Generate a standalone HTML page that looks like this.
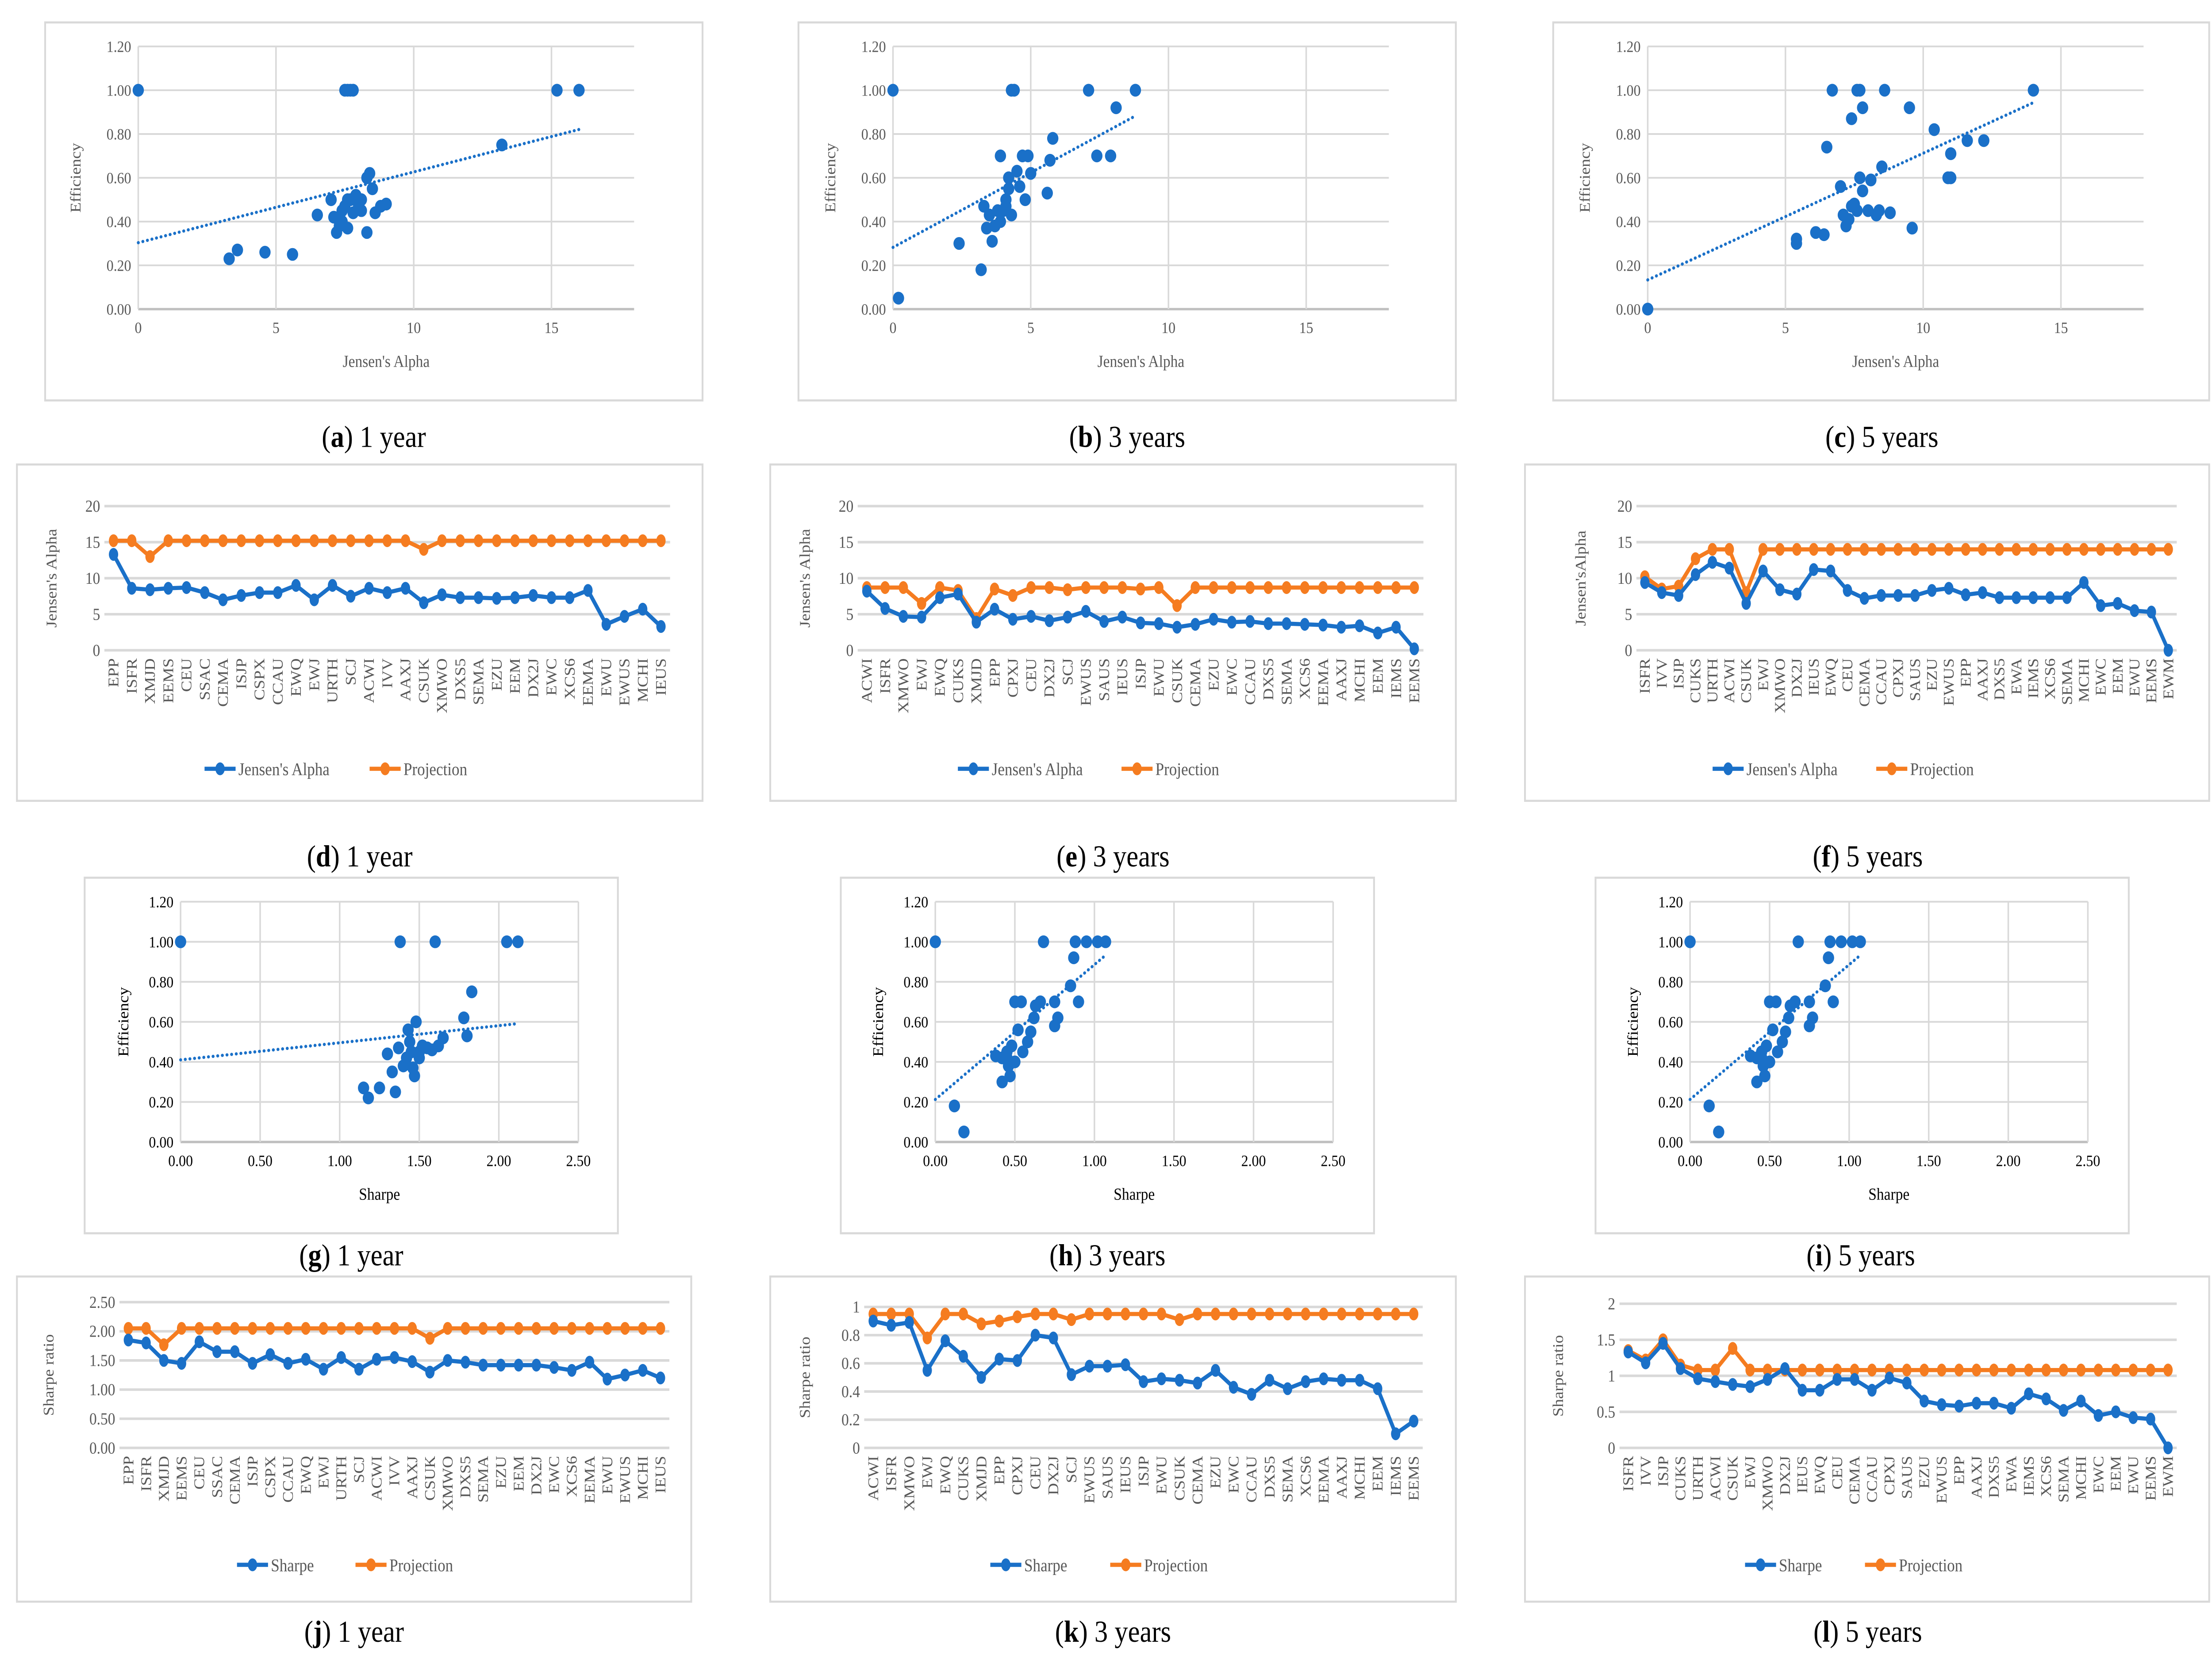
<!DOCTYPE html>
<html><head><meta charset="utf-8"><style>
html,body{margin:0;padding:0;background:#fff;width:100%;height:100%;overflow:hidden}
svg{display:block;width:100vw;height:100vh;position:absolute;left:0;top:0}
text{font-family:"Liberation Serif",serif}
</style></head><body>
<svg id="svgroot" xmlns="http://www.w3.org/2000/svg" viewBox="0 0 1568 1038.3" preserveAspectRatio="none"><g id="fig"></g></svg>
<script>
// ---------- DATA ----------
const aX=[0,3.3,3.6,4.6,5.6,6.5,7,7.1,7.2,7.3,7.4,7.5,7.6,7.7,7.8,7.5,7.6,7.7,7.8,7.9,8,8.1,8.3,8.3,8.4,8.5,8.6,8.8,9,13.2,15.2,16,7.4,7.6,8.1];
const aY=[1,0.23,0.27,0.26,0.25,0.43,0.5,0.42,0.35,0.38,0.45,1,1,1,1,0.47,0.37,0.5,0.44,0.52,0.47,0.45,0.35,0.6,0.62,0.55,0.44,0.47,0.48,0.75,1,1,0.4,0.5,0.5];
const bX=[0,0.2,2.4,3.2,3.3,3.4,3.5,3.6,3.7,3.8,3.9,4,4.1,4.2,4.2,4.3,4.4,4.3,4.5,4.6,4.7,4.8,4.9,5,5.6,5.7,5.8,7.1,7.4,7.9,8.1,8.8,3.9,4.1];
const bY=[1,0.05,0.3,0.18,0.47,0.37,0.43,0.31,0.38,0.45,0.7,0.45,0.5,0.55,0.6,1,1,0.43,0.63,0.56,0.7,0.5,0.7,0.62,0.53,0.68,0.78,1,0.7,0.7,0.92,1,0.4,0.47];
const cX=[0,5.4,5.4,6.1,6.4,6.5,6.7,7,7.1,7.2,7.3,7.4,7.5,7.6,7.6,7.7,7.8,7.7,7.8,8,8.1,8.3,8.4,8.5,8.6,8.8,9.5,9.6,10.4,10.9,11,11,11.6,12.2,14,7.4];
const cY=[0,0.3,0.32,0.35,0.34,0.74,1,0.56,0.43,0.38,0.41,0.87,0.48,0.45,1,1,0.92,0.6,0.54,0.45,0.59,0.43,0.45,0.65,1,0.44,0.92,0.37,0.82,0.6,0.6,0.71,0.77,0.77,1,0.47];
const gX=[0,1.15,1.18,1.25,1.3,1.33,1.35,1.38,1.37,1.4,1.42,1.43,1.45,1.46,1.47,1.48,1.5,1.52,1.55,1.58,1.6,1.62,1.65,1.78,1.8,1.83,2.05,2.12,1.44,1.5];
const gY=[1,0.27,0.22,0.27,0.44,0.35,0.25,1,0.47,0.38,0.42,0.56,0.45,0.37,0.33,0.6,0.45,0.48,0.47,0.46,1,0.48,0.52,0.62,0.53,0.75,1,1,0.5,0.42];
const hX=[0,0.12,0.18,0.38,0.42,0.42,0.45,0.46,0.47,0.48,0.5,0.5,0.52,0.54,0.55,0.58,0.6,0.62,0.63,0.66,0.68,0.75,0.77,0.75,0.85,0.87,0.88,0.9,0.95,1.02,1.07,0.45];
const hY=[1,0.18,0.05,0.43,0.3,0.42,0.45,0.38,0.33,0.48,0.4,0.7,0.56,0.7,0.45,0.5,0.55,0.62,0.68,0.7,1,0.58,0.62,0.7,0.78,0.92,1,0.7,1,1,1,0.42];
const iX=[0,0.12,0.18,0.38,0.42,0.42,0.45,0.46,0.47,0.48,0.5,0.5,0.52,0.54,0.55,0.58,0.6,0.62,0.63,0.66,0.68,0.75,0.77,0.75,0.85,0.87,0.88,0.9,0.95,1.02,1.07,0.45];
const iY=[1,0.18,0.05,0.43,0.3,0.42,0.45,0.38,0.33,0.48,0.4,0.7,0.56,0.7,0.45,0.5,0.55,0.62,0.68,0.7,1,0.58,0.62,0.7,0.78,0.92,1,0.7,1,1,1,0.42];

const dCats=["EPP","ISFR","XMJD","EEMS","CEU","SSAC","CEMA","ISJP","CSPX","CCAU","EWQ","EWJ","URTH","SCJ","ACWI","IVV","AAXJ","CSUK","XMWO","DXS5","SEMA","EZU","EEM","DX2J","EWC","XCS6","EEMA","EWU","EWUS","MCHI","IEUS"];
const dAlpha=[13.3,8.6,8.4,8.6,8.7,8,7,7.6,8.0,8.0,9.0,7.0,9.0,7.5,8.6,8.0,8.6,6.6,7.7,7.3,7.3,7.2,7.3,7.6,7.3,7.3,8.3,3.6,4.7,5.7,3.3];
const dProj=[15.2,15.2,13,15.2,15.2,15.2,15.2,15.2,15.2,15.2,15.2,15.2,15.2,15.2,15.2,15.2,15.2,14.0,15.2,15.2,15.2,15.2,15.2,15.2,15.2,15.2,15.2,15.2,15.2,15.2,15.2];
const eCats=["ACWI","ISFR","XMWO","EWJ","EWQ","CUKS","XMJD","EPP","CPXJ","CEU","DX2J","SCJ","EWUS","SAUS","IEUS","ISJP","EWU","CSUK","CEMA","EZU","EWC","CCAU","DXS5","SEMA","XCS6","EEMA","AAXJ","MCHI","EEM","IEMS","EEMS"];
const eAlpha=[8.2,5.8,4.7,4.6,7.3,7.8,3.9,5.7,4.3,4.7,4.1,4.6,5.4,4.0,4.6,3.8,3.7,3.2,3.6,4.3,3.9,4.0,3.7,3.7,3.6,3.5,3.2,3.4,2.4,3.2,0.2];
const eProj=[8.7,8.7,8.7,6.5,8.7,8.3,4.4,8.5,7.6,8.7,8.7,8.4,8.7,8.7,8.7,8.5,8.7,6.2,8.7,8.7,8.7,8.7,8.7,8.7,8.7,8.7,8.7,8.7,8.7,8.7,8.7];
const fCats=["ISFR","IVV","ISJP","CUKS","URTH","ACWI","CSUK","EWJ","XMWO","DX2J","IEUS","EWQ","CEU","CEMA","CCAU","CPXJ","SAUS","EZU","EWUS","EPP","AAXJ","DXS5","EWA","IEMS","XCS6","SEMA","MCHI","EWC","EEM","EWU","EEMS","EWM"];
const fAlpha=[9.4,8.0,7.6,10.5,12.2,11.4,6.5,11.0,8.4,7.8,11.2,11.0,8.3,7.2,7.6,7.6,7.6,8.3,8.6,7.7,8.0,7.3,7.3,7.3,7.3,7.3,9.4,6.2,6.5,5.5,5.3,0];
const fProj=[10.2,8.5,8.9,12.7,14.0,14.0,8.0,14.0,14,14,14,14,14,14,14,14,14,14,14,14,14,14,14,14,14,14,14,14,14,14,14,14];
const jCats=dCats.slice();
const jSharpe=[1.85,1.8,1.5,1.45,1.82,1.65,1.65,1.45,1.6,1.45,1.52,1.35,1.55,1.35,1.52,1.55,1.48,1.3,1.5,1.47,1.42,1.42,1.42,1.42,1.38,1.33,1.47,1.18,1.25,1.33,1.2];
const jProj=[2.05,2.05,1.77,2.05,2.05,2.05,2.05,2.05,2.05,2.05,2.05,2.05,2.05,2.05,2.05,2.05,2.05,1.88,2.05,2.05,2.05,2.05,2.05,2.05,2.05,2.05,2.05,2.05,2.05,2.05,2.05];
const kCats=eCats.slice();
const kSharpe=[0.9,0.87,0.89,0.55,0.76,0.65,0.5,0.63,0.62,0.8,0.78,0.52,0.58,0.58,0.59,0.47,0.49,0.48,0.46,0.55,0.43,0.38,0.48,0.42,0.47,0.49,0.48,0.48,0.42,0.1,0.19];
const kProj=[0.95,0.95,0.95,0.78,0.95,0.95,0.88,0.9,0.93,0.95,0.95,0.91,0.95,0.95,0.95,0.95,0.95,0.91,0.95,0.95,0.95,0.95,0.95,0.95,0.95,0.95,0.95,0.95,0.95,0.95,0.95];
const lCats=fCats.slice();
const lSharpe=[1.33,1.18,1.45,1.1,0.96,0.92,0.88,0.85,0.95,1.1,0.8,0.8,0.95,0.95,0.8,0.97,0.9,0.65,0.6,0.58,0.62,0.62,0.55,0.75,0.68,0.52,0.65,0.45,0.5,0.42,0.4,0];
const lProj=[1.35,1.22,1.5,1.15,1.08,1.08,1.38,1.08,1.08,1.08,1.08,1.08,1.08,1.08,1.08,1.08,1.08,1.08,1.08,1.08,1.08,1.08,1.08,1.08,1.08,1.08,1.08,1.08,1.08,1.08,1.08,1.08];

// ---------- DRAWING ----------
const NS="http://www.w3.org/2000/svg";
const svg=document.getElementById('fig');
function mk(tag,attrs,parent){const e=document.createElementNS(NS,tag);for(const k in attrs)e.setAttribute(k,attrs[k]);(parent||svg).appendChild(e);return e;}
function txt(s,attrs,parent){const t=mk('text',attrs,parent);t.textContent=s;return t;}
const BLUE="#1a70c8", ORANGE="#f57c20", GRID="#d9d9d9";

function caption(letter,rest,cx,y,id){
  const t=txt('',{x:cx,y:y,'text-anchor':'middle','font-size':19,fill:'#000'});
  
  
  const a=mk('tspan',{},t);a.textContent='(';
  const b=mk('tspan',{'font-weight':'bold'},t);b.textContent=letter;
  const c=mk('tspan',{},t);c.textContent=') '+rest;
}

function scatter(id,o,xs,ys){
  const g=mk('g',{});
  
  
  const box=mk('rect',{x:o.bx,y:o.by,width:o.bw,height:o.bh,fill:'#fff',stroke:'#d9d9d9','stroke-width':1.3},g);
  
  
  const sx=v=>o.x0+(v-0)*(o.x1-o.x0)/o.xmax;
  const sy=v=>o.y0-(v)*(o.y0-o.y1)/o.ymax;
  const right=sx(o.xmax);
  for(const t of o.yt){
    const l=mk('line',{x1:o.x0,x2:right,y1:sy(t),y2:sy(t),stroke:t===0?'#bfbfbf':GRID,'stroke-width':t===0?1.5:1.1},g);
    
    
    const lb=txt(t.toFixed(2),{x:o.x0-5,y:sy(t)+3.5,'text-anchor':'end','font-size':10,fill:o.lc},g);
    
    
  }
  for(const t of o.xt){
    if(t>0){const l=mk('line',{x1:sx(t),x2:sx(t),y1:sy(o.ymax),y2:o.y0,stroke:GRID,'stroke-width':1.1},g);
    
    }
    const lb=txt(o.xf(t),{x:sx(t),y:o.y0+15,'text-anchor':'middle','font-size':10,fill:o.lc},g);
    
    
  }
  const ya=mk('line',{x1:o.x0,x2:o.x0,y1:sy(o.ymax),y2:o.y0,stroke:GRID,'stroke-width':1.1},g);
  
  
  const xt=txt(o.xtitle,{x:(o.x0+right)/2,y:o.y0+36,'text-anchor':'middle','font-size':10.5,fill:o.lc},g);
  
  
  const yty=(o.y0+sy(o.ymax))/2;
  const yt=txt('Efficiency',{x:o.ytx,y:yty,'text-anchor':'middle','font-size':10.5,fill:o.lc,transform:`rotate(-90 ${o.ytx} ${yty})`},g);
  
  
  const n=xs.length;let mx=0,my=0;for(let i=0;i<n;i++){mx+=xs[i];my+=ys[i];}mx/=n;my/=n;
  let sxy=0,sxx=0;for(let i=0;i<n;i++){sxy+=(xs[i]-mx)*(ys[i]-my);sxx+=(xs[i]-mx)**2;}
  const m=sxy/sxx,c=my-m*mx;const xa=Math.min(...xs),xb=Math.max(...xs);
  const tl=mk('line',{x1:sx(xa),y1:sy(m*xa+c),x2:sx(xb),y2:sy(m*xb+c),stroke:BLUE,'stroke-width':2,'stroke-dasharray':'0.1 3.2','stroke-linecap':'round'},g);
  
  
  for(let i=0;i<n;i++){
    const p=mk('circle',{cx:sx(xs[i]),cy:sy(ys[i]),r:4,fill:BLUE},g);
    
    
  }
}

function linechart(id,o,cats,s1,s2,name1){
  const g=mk('g',{});
  
  
  const box=mk('rect',{x:o.bx,y:o.by,width:o.bw,height:o.bh,fill:'#fff',stroke:'#d9d9d9','stroke-width':1.3},g);
  
  
  const n=cats.length, band=(o.pr-o.pl)/n;
  const sx=i=>o.pl+band*(i+0.5);
  const sy=v=>o.y0-v*(o.y0-o.y1)/o.ymax;
  for(const t of o.yt){
    const l=mk('line',{x1:o.pl,x2:o.pr,y1:sy(t),y2:sy(t),stroke:GRID,'stroke-width':1.6},g);
    
    
    const lb=txt(o.yf(t),{x:o.pl-3,y:sy(t)+3.5,'text-anchor':'end','font-size':10.5,fill:'#595959'},g);
    
    
  }
  const yty=(o.y0+o.y1)/2;
  const yt=txt(o.ytitle,{x:o.ytx,y:yty,'text-anchor':'middle','font-size':10.5,fill:'#595959',transform:`rotate(-90 ${o.ytx} ${yty})`},g);
  
  
  for(let i=0;i<n;i++){
    const x=sx(i)+3.5, y=o.y0+5;
    const lb=txt(cats[i],{x:x,y:y,'text-anchor':'end','font-size':10.5,fill:'#595959',transform:`rotate(-90 ${x} ${y})`},g);
    
    
  }
  function series(vals,col,nm){
    const pts=vals.map((v,i)=>sx(i)+','+sy(v)).join(' ');
    const pl=mk('polyline',{points:pts,fill:'none',stroke:col,'stroke-width':2.6,'stroke-linejoin':'round'},g);
    
    
    vals.forEach((v,i)=>{
      const c=mk('ellipse',{cx:sx(i),cy:sy(v),rx:3.3,ry:4,fill:col},g);
      
      
    });
  }
  series(s2,ORANGE,'projection');
  series(s1,BLUE,name1.toLowerCase().replace(/[^a-z]+/g,'-'));
  const ly=o.ly;
  const lg=mk('g',{},g);
  
  
  function entry(x,w,col,label,nm){
    const eg=mk('g',{},lg);
    
    
    mk('line',{x1:x,x2:x+w,y1:ly,y2:ly,stroke:col,'stroke-width':2.6},eg);
    mk('ellipse',{cx:x+w/2,cy:ly,rx:3.3,ry:4,fill:col},eg);
    txt(label,{x:x+w+2,y:ly+4,'font-size':11,fill:'#595959'},eg);
  }
  entry(o.l1,22,BLUE,name1,'series');
  entry(o.l2,22,ORANGE,'Projection','projection');
}

const sAB={yt:[0,0.2,0.4,0.6,0.8,1.0,1.2],ymax:1.2,y0:193,y1:29,xmax:18,xt:[0,5,10,15],xf:t=>String(t),lc:'#595959',xtitle:"Jensen's Alpha",by:14,bw:466,bh:236};
scatter('a',Object.assign({},sAB,{bx:32,x0:98,x1:449.5,ytx:57}),aX,aY);
scatter('b',Object.assign({},sAB,{bx:566,x0:633,x1:984.5,ytx:592}),bX,bY);
scatter('c',Object.assign({},sAB,{bx:1101,x0:1168,x1:1519.5,ytx:1127,bw:465}),cX,cY);
caption('a','1 year',265,279,'a');caption('b','3 years',799,279,'b');caption('c','5 years',1334,279,'c');

const lA={by:290,bh:210,bw:486,y0:406,y1:316,ymax:20,yt:[0,5,10,15,20],yf:t=>String(t),ly:480,ytitle:"Jensen's Alpha"};
linechart('d',Object.assign({},lA,{bx:12,pl:74,pr:475,ytx:40,l1:145,l2:262}),dCats,dAlpha,dProj,"Jensen's Alpha");
linechart('e',Object.assign({},lA,{bx:546,pl:608,pr:1009,ytx:574,l1:679,l2:795}),eCats,eAlpha,eProj,"Jensen's Alpha");
linechart('f',Object.assign({},lA,{bx:1081,bw:485,pl:1160,pr:1543,ytx:1124,l1:1214,l2:1330,ytitle:"Jensen'sAlpha"}),fCats,fAlpha,fProj,"Jensen's Alpha");
caption('d','1 year',255,541,'d');caption('e','3 years',789,541,'e');caption('f','5 years',1324,541,'f');

const sG={yt:[0,0.2,0.4,0.6,0.8,1.0,1.2],ymax:1.2,y0:713,y1:563,xmax:2.5,xt:[0,0.5,1,1.5,2,2.5],xf:t=>t.toFixed(2),lc:'#000',xtitle:'Sharpe',by:548,bw:378,bh:222};
scatter('g',Object.assign({},sG,{bx:60,x0:128,x1:410,ytx:91}),gX,gY);
scatter('h',Object.assign({},sG,{bx:596,x0:663,x1:945,ytx:626}),hX,hY);
scatter('i',Object.assign({},sG,{bx:1131,x0:1198,x1:1480,ytx:1161}),iX,iY);
caption('g','1 year',249,790,'g');caption('h','3 years',785,790,'h');caption('i','5 years',1319,790,'i');

const lJ={by:797,bh:203,y0:904,ly:977,ytitle:'Sharpe ratio'};
linechart('j',Object.assign({},lJ,{bx:12,bw:478,pl:84.7,pr:474.5,y1:813,ymax:2.5,yt:[0,0.5,1,1.5,2,2.5],yf:t=>t.toFixed(2),ytx:38,l1:168,l2:252}),jCats,jSharpe,jProj,'Sharpe');
linechart('k',Object.assign({},lJ,{bx:546,bw:486,pl:612.6,pr:1008.5,y1:816,ymax:1,yt:[0,0.2,0.4,0.6,0.8,1],yf:t=>String(t),ytx:574,l1:702,l2:787}),kCats,kSharpe,kProj,'Sharpe');
linechart('l',Object.assign({},lJ,{bx:1081,bw:485,pl:1148,pr:1543,y1:814,ymax:2,yt:[0,0.5,1,1.5,2],yf:t=>String(t),ytx:1108,l1:1237,l2:1322}),lCats,lSharpe,lProj,'Sharpe');
caption('j','1 year',251,1025,'j');caption('k','3 years',789,1025,'k');caption('l','5 years',1324,1025,'l');
</script>
</body></html>
